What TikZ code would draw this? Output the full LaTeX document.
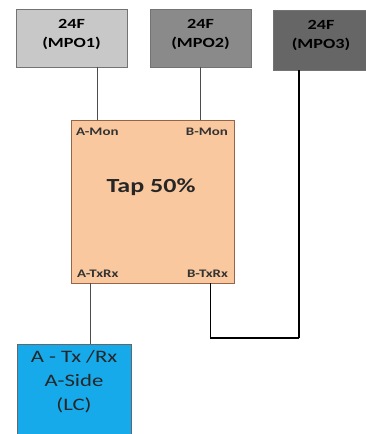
\documentclass[tikz,border=0pt]{standalone}
\usepackage{fontspec}
\setmainfont{Carlito}[FakeStretch=1.3]
\usepackage{xcolor}
\definecolor{mpolight}{RGB}{200,200,200}
\definecolor{mpomid}{RGB}{138,138,138}
\definecolor{mpodark}{RGB}{102,102,102}
\definecolor{tappeach}{RGB}{250,200,158}
\definecolor{tapedge}{RGB}{150,100,70}
\definecolor{lcblue}{RGB}{22,170,235}
\usetikzlibrary{positioning,calc}

\begin{document}
\begin{tikzpicture}[x=1pt, y=-1pt,
  every node/.style={font=\small},
  mpobox/.style={draw=black!55, align=center, font=\bfseries\fontsize{14}{19}\selectfont, minimum height=58pt},
  portlbl/.style={font=\bfseries\fontsize{11.5}{13}\selectfont, text=black!80, inner sep=0pt}]
  \useasboundingbox (0,0) rectangle (365,434);
  \node[mpobox, fill=mpolight, minimum width=111pt] (mpo1) at (71.5,38) {24F\\(MPO1)\\[-10pt]};
  \node[mpobox, fill=mpomid, minimum width=101pt] (mpo2) at (200.5,38) {24F\\(MPO2)\\[-10pt]};
  \node[mpobox, fill=mpodark, minimum width=96pt, minimum height=60pt] (mpo3) at (321,40) {24F\\(MPO3)\\[-8pt]};
  \node[draw=tapedge, fill=tappeach, minimum width=163pt, minimum height=163pt] (tap) at (152.5,201.5) {};
  \node[font=\bfseries\fontsize{20}{22}\selectfont, text=black!85] (taplbl) at (151,187) {Tap 50\%};
  \node[portlbl, anchor=north west] (amon) at ($(tap.north west)+(5,8)$) {A-Mon};
  \node[portlbl, anchor=north east] (bmon) at ($(tap.north east)+(-6,8)$) {B-Mon};
  \node[portlbl, anchor=south west] (atxrx) at ($(tap.south west)+(6,-6)$) {A-TxRx};
  \node[portlbl, anchor=south east] (btxrx) at ($(tap.south east)+(-6,-6)$) {B-TxRx};
  \node[draw=black!60, fill=lcblue, minimum width=114pt, minimum height=92pt, align=center, anchor=north, font=\fontsize{17.5}{24}\selectfont, text=black!85] (lc) at (74,344) {A - Tx /Rx\\A-Side\\(LC)\\[-4pt]};
  \coordinate (mon1) at (97,0);
  \coordinate (mon2) at (200,0);
  \coordinate (tx1) at (90,0);
  \coordinate (tx2) at (210,0);
  \coordinate (mpo3drop) at (299,0);
  \coordinate (joint) at (299,338);
  \draw[black!70, line width=0.8pt] (mon1 |- mpo1.south) -- (mon1 |- tap.north);
  \draw[black!70, line width=0.8pt] (mon2 |- mpo2.south) -- (mon2 |- tap.north);
  \draw[black!70, line width=0.8pt] (tx1 |- tap.south) -- (tx1 |- lc.north);
  \draw[line width=0.9pt] (tx2 |- tap.south) -- (tx2 |- joint);
  \draw[line width=1.8pt] (tx2 |- joint) -- (joint);
  \draw[line width=2.6pt] (mpo3drop |- mpo3.south) -- (joint);
\end{tikzpicture}
\end{document}
